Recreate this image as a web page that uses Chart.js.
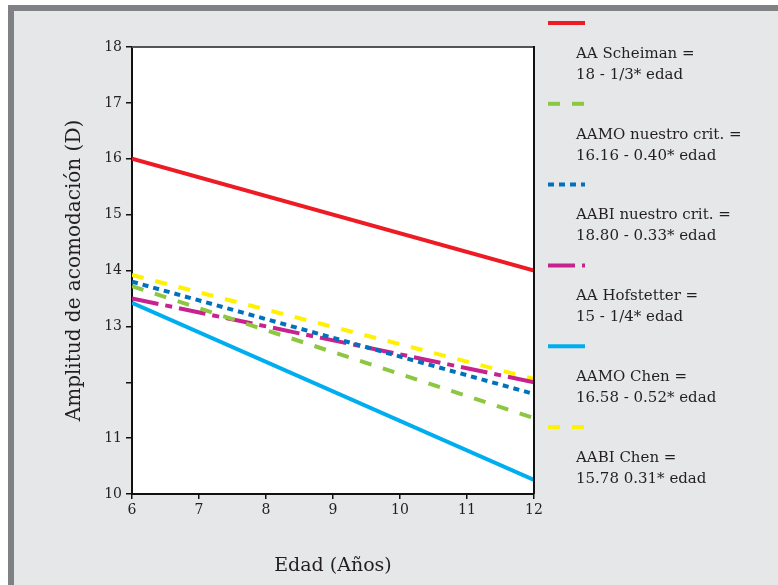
<!DOCTYPE html>
<html>
<head>
<meta charset="utf-8">
<script src="https://cdn.jsdelivr.net/npm/chart.js@4.4.1/dist/chart.umd.min.js"></script>
<style>
html,body{margin:0;padding:0;background:#fff;}
#wrap{width:778px;height:585px;position:relative;}
</style>
</head>
<body>
<div id="wrap"><canvas id="c" width="778" height="585"></canvas></div>
<script>
// ---- data ----
const ages = [6, 12];
const scheiman = [16.0, 14.0];
const aamoNuestro = [13.72, 11.36];
const aabiNuestro = [13.8, 11.79];
const hofstetter = [13.5, 12.0];
const aamoChen = [13.42, 10.25];
const aabiChen = [13.92, 12.06];

const seriesNames = ['AA Scheiman', 'AAMO nuestro crit.', 'AABI nuestro crit.', 'AA Hofstetter', 'AAMO Chen', 'AABI Chen'];
const legendLine1 = ['AA Scheiman =', 'AAMO nuestro crit. =', 'AABI nuestro crit. =', 'AA Hofstetter =', 'AAMO Chen =', 'AABI Chen ='];
const legendLine2 = ['18 - 1/3* edad', '16.16 - 0.40* edad', '18.80 - 0.33* edad', '15 - 1/4* edad', '16.58 - 0.52* edad', '15.78 0.31* edad'];

const yTickValues = [10, 11, 12, 13, 14, 15, 16, 17, 18];
const yTickLabels = ['10', '11', '', '13', '14', '15', '16', '17', '18'];
const xTickValues = [6, 7, 8, 9, 10, 11, 12];
const xTickLabels = ['6', '7', '8', '9', '10', '11', '12'];

const colors = ['#ed1c24', '#8dc63f', '#0072bc', '#c7228e', '#00aeef', '#fff200'];
const dashes = [[], [12, 12], [6, 5], [27, 7, 7, 7], [], [12, 12]];
const allSeries = [scheiman, aamoNuestro, aabiNuestro, hofstetter, aamoChen, aabiChen];

const FONT = 'DejaVu Serif';
const TEXT = '#231f20';

const datasets = allSeries.map((vals, i) => ({
  label: seriesNames[i],
  data: ages.map((a, j) => ({x: a, y: vals[j]})),
  borderColor: colors[i],
  backgroundColor: colors[i],
  borderWidth: 4,
  borderDash: dashes[i],
  borderCapStyle: 'butt',
  pointRadius: 0,
  tension: 0,
  fill: false
}));

const framePlugin = {
  id: 'frame',
  beforeDraw(chart) {
    const ctx = chart.ctx;
    ctx.save();
    ctx.fillStyle = '#ffffff';
    ctx.fillRect(0, 0, chart.width, chart.height);
    ctx.fillStyle = '#808184';
    ctx.fillRect(8, 5, chart.width - 8, chart.height - 5);
    ctx.fillStyle = '#e6e7e8';
    ctx.fillRect(14, 11, chart.width - 14, chart.height - 11);
    const a = chart.chartArea;
    ctx.fillStyle = '#ffffff';
    ctx.fillRect(a.left, a.top, a.right - a.left, a.bottom - a.top);
    ctx.restore();
  },
  afterDatasetsDraw(chart) {
    const ctx = chart.ctx;
    const a = chart.chartArea;
    ctx.save();
    ctx.strokeStyle = '#555';
    ctx.lineWidth = 2;
    ctx.beginPath();
    ctx.moveTo(a.left, a.top);
    ctx.lineTo(a.right, a.top);
    ctx.stroke();
    ctx.strokeStyle = '#111';
    ctx.beginPath();
    ctx.moveTo(a.right, a.top - 1);
    ctx.lineTo(a.right, a.bottom);
    ctx.stroke();
    ctx.restore();
  },
  afterDraw(chart) {
    const ctx = chart.ctx;
    ctx.save();
    chart.data.datasets.forEach((ds, i) => {
      const y0 = 23 + i * 80.8;
      ctx.strokeStyle = ds.borderColor;
      ctx.lineWidth = 4;
      ctx.setLineDash(ds.borderDash);
      ctx.lineCap = 'butt';
      ctx.beginPath();
      ctx.moveTo(548, y0);
      ctx.lineTo(585, y0);
      ctx.stroke();
      ctx.setLineDash([]);
      ctx.fillStyle = TEXT;
      ctx.font = '15px "' + FONT + '"';
      ctx.textAlign = 'left';
      ctx.textBaseline = 'middle';
      ctx.fillText(legendLine1[i], 576, y0 + 31);
      ctx.fillText(legendLine2[i], 576, y0 + 52);
    });
    ctx.restore();
  }
};

new Chart(document.getElementById('c'), {
  type: 'line',
  data: { datasets },
  options: {
    responsive: false,
    animation: false,
    layout: { padding: { left: 59, right: 244, top: 47, bottom: 0 } },
    plugins: { legend: { display: false }, tooltip: { enabled: false } },
    scales: {
      x: {
        type: 'linear',
        min: 6, max: 12,
        afterBuildTicks(scale) { scale.ticks = xTickValues.map(v => ({value: v})); },
        afterFit(scale) { scale.height = 91; },
        ticks: {
          color: TEXT,
          font: { family: FONT, size: 14 },
          padding: 3,
          maxRotation: 0,
          callback: (v) => xTickLabels[xTickValues.indexOf(v)]
        },
        grid: { drawOnChartArea: false, drawTicks: true, tickLength: 5, color: '#111', lineWidth: 1.5 },
        border: { color: '#111', width: 2 },
        title: { display: true, text: 'Edad (Años)', color: TEXT, font: { family: FONT, size: 19 }, padding: { top: 0, bottom: 8 } }
      },
      y: {
        type: 'linear',
        min: 10, max: 18,
        afterBuildTicks(scale) { scale.ticks = yTickValues.map(v => ({value: v})); },
        afterFit(scale) { scale.width = 73; },
        ticks: {
          color: TEXT,
          font: { family: FONT, size: 14 },
          padding: 4,
          callback: (v) => yTickLabels[yTickValues.indexOf(v)]
        },
        grid: { drawOnChartArea: false, drawTicks: true, tickLength: 6, color: '#111', lineWidth: 1.5 },
        border: { color: '#111', width: 2 },
        title: { display: true, text: 'Amplitud de acomodación (D)', color: TEXT, font: { family: FONT, size: 20 }, padding: { top: 4, bottom: 0 } }
      }
    }
  },
  plugins: [framePlugin]
});
</script>
</body>
</html>
